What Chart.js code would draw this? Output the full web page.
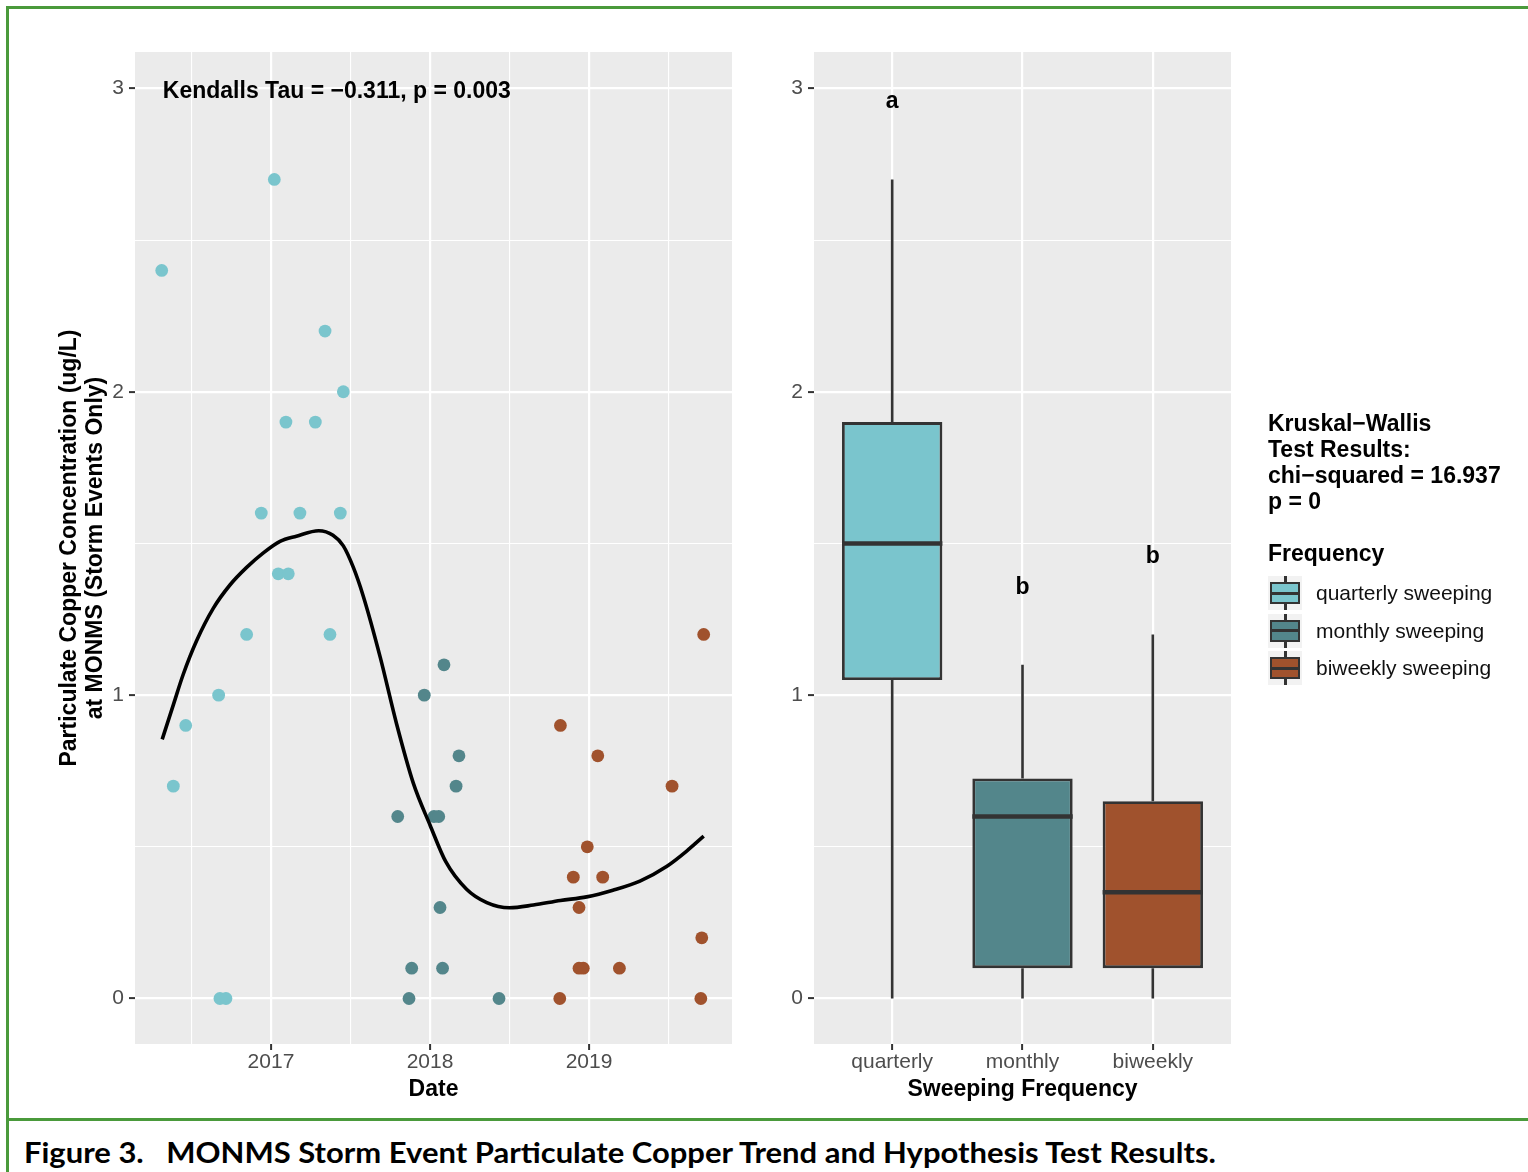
<!DOCTYPE html>
<html>
<head>
<meta charset="utf-8">
<title>MONMS Storm Event Particulate Copper</title>
<script src="https://cdn.jsdelivr.net/npm/chart.js@4/dist/chart.umd.min.js"></script>
<style>
  html, body { margin: 0; padding: 0; background: #ffffff; }
  body { width: 1528px; height: 1172px; position: relative; overflow: hidden;
         font-family: "Liberation Sans", Arial, sans-serif; }
  canvas { position: absolute; top: 0; }
  #trend { left: 0; }
  #freq { left: 760px; }
  .rule { position: absolute; background: #4a9a3b; }
  .kw { position: absolute; left: 1268px; font-weight: bold; font-size: 23px;
        line-height: 26px; color: #000; white-space: nowrap; }
  .key { position: absolute; left: 1268px; width: 34px; height: 34px; background: #F2F2F2; }
  .key .wh { position: absolute; left: 16px; top: 0; width: 2.5px; height: 34px; background: #333333; }
  .key .bx { position: absolute; left: 2px; top: 6px; width: 30px; height: 22px;
             box-sizing: border-box; border: 2.5px solid #333333; }
  .key .md { position: absolute; left: 2px; top: 15.5px; width: 30px; height: 3px; background: #333333; }
  .keylab { position: absolute; left: 1316px; font-size: 21px; line-height: 24px; color: #111; white-space: nowrap; }
  #caption { position: absolute; left: 24px; top: 1133px; font-family: Lato, "Open Sans", sans-serif;
             font-weight: 700; font-size: 28px; line-height: 38px; color: #000;
             white-space: pre; transform-origin: 0 50%; }
</style>
</head>
<body>
<canvas id="trend" width="760" height="1120"></canvas>
<canvas id="freq" width="768" height="1120"></canvas>
<div id="legend"></div>
<div class="rule" style="left:6px;top:6px;width:1522px;height:3px"></div>
<div class="rule" style="left:6px;top:6px;width:3px;height:1166px"></div>
<div class="rule" style="left:6px;top:1118px;width:1522px;height:3px"></div>
<div id="caption">Figure 3.   MONMS Storm Event Particulate Copper Trend and Hypothesis Test Results.</div>

<script>
// ---- sweeping-frequency groups ----
const groups = ['quarterly', 'monthly', 'biweekly'];
const groupLabels = ['quarterly sweeping', 'monthly sweeping', 'biweekly sweeping'];
const groupColors = ['#7AC5CD', '#53868B', '#A0522D'];

// ---- storm event samples (decimal year, particulate Cu ug/L) ----
const quarterlyDate = [2016.313, 2016.386, 2016.464, 2016.671, 2016.679, 2016.717, 2016.847, 2016.939, 2017.021,
                       2017.046, 2017.094, 2017.109, 2017.182, 2017.279, 2017.340, 2017.371, 2017.436, 2017.455];
const quarterlyCu   = [2.4, 0.7, 0.9, 1.0, 0.0, 0.0, 1.2, 1.6, 2.7,
                       1.4, 1.9, 1.4, 1.6, 1.9, 2.2, 1.2, 1.6, 2.0];

const monthlyDate = [2017.797, 2017.868, 2017.885, 2017.964, 2018.025, 2018.055,
                     2018.063, 2018.088, 2018.079, 2018.164, 2018.182, 2018.434];
const monthlyCu   = [0.6, 0.0, 0.1, 1.0, 0.6, 0.6,
                     0.3, 1.1, 0.1, 0.7, 0.8, 0.0];

const biweeklyDate = [2018.816, 2018.820, 2018.901, 2018.937, 2018.937, 2018.964, 2018.989,
                      2019.055, 2019.086, 2019.191, 2019.522, 2019.703, 2019.709, 2019.721];
const biweeklyCu   = [0.0, 0.9, 0.4, 0.3, 0.1, 0.1, 0.5,
                      0.8, 0.4, 0.1, 0.7, 0.0, 0.2, 1.2];

// ---- smoothed trend line ----
const trendDate = [2016.316, 2016.386, 2016.448, 2016.533, 2016.637, 2016.742, 2016.847, 2016.952, 2017.057,
                   2017.16, 2017.30, 2017.39, 2017.455, 2017.518, 2017.58, 2017.686, 2017.79, 2017.895,
                   2018.0, 2018.10, 2018.23, 2018.357, 2018.50, 2018.65, 2018.82, 2018.985, 2019.15,
                   2019.32, 2019.49, 2019.614, 2019.721];
const trendCu   = [0.854, 0.968, 1.068, 1.180, 1.286, 1.363, 1.421, 1.469, 1.507,
                   1.524, 1.542, 1.527, 1.492, 1.421, 1.327, 1.127, 0.905, 0.71,
                   0.572, 0.45, 0.36, 0.316, 0.299, 0.308, 0.323, 0.335, 0.357,
                   0.387, 0.436, 0.486, 0.535];

// ---- axis ticks ----
const yearTicks = [2017, 2018, 2019];
const yearMinorTicks = [2016.5, 2017.5, 2018.5, 2019.5];
const concTicks = [0, 1, 2, 3];
const concMinorTicks = [0.5, 1.5, 2.5];

// ---- test results ----
const kendallTau = -0.311;
const kendallP = 0.003;
const kendallAnchor = { x: 2016.32, y: 2.99 };
const kwChiSquared = 16.937;
const kwP = 0;
const groupLetters = ['a', 'b', 'b'];
const letterHeights = [2.957, 1.355, 1.457];

const FONT = '"Liberation Sans", Arial, sans-serif';
Chart.defaults.font.family = FONT;
const minus = s => String(s).replace('-', '\u2212');

const groupData = [
  { date: quarterlyDate, cu: quarterlyCu },
  { date: monthlyDate, cu: monthlyCu },
  { date: biweeklyDate, cu: biweeklyCu }
];

// Tukey box statistics (type-7 quantiles, 1.5 IQR whiskers)
function quantile(sorted, p) {
  const h = (sorted.length - 1) * p, lo = Math.floor(h), hi = Math.ceil(h);
  return sorted[lo] + (h - lo) * (sorted[hi] - sorted[lo]);
}
function boxStatsOf(values) {
  const s = [...values].sort((a, b) => a - b);
  const q1 = quantile(s, 0.25), med = quantile(s, 0.5), q3 = quantile(s, 0.75);
  const iqr = q3 - q1;
  const inside = s.filter(v => v >= q1 - 1.5 * iqr - 1e-9 && v <= q3 + 1.5 * iqr + 1e-9);
  return { q1, med, q3, lo: inside[0], hi: inside[inside.length - 1] };
}
const boxStats = groupData.map(g => boxStatsOf(g.cu));

const near = (v, list) => list.some(t => Math.abs(t - v) < 1e-6);

const panelBg = {
  id: 'panelBg',
  beforeDraw(chart) {
    const { ctx, chartArea: a } = chart;
    ctx.save();
    ctx.fillStyle = '#EBEBEB';
    ctx.fillRect(a.left, a.top, a.right - a.left, a.bottom - a.top);
    ctx.restore();
  }
};

function concScale(width, title) {
  const ticks = [...concTicks, ...concMinorTicks].sort((a, b) => a - b);
  return {
    type: 'linear', min: -0.15, max: 3.12, beginAtZero: false,
    afterBuildTicks: s => { s.ticks = ticks.map(v => ({ value: v })); },
    afterFit: s => { s.width = width; },
    ticks: {
      autoSkip: false, padding: 5, color: '#4D4D4D', font: { size: 21 },
      callback: v => near(v, concTicks) ? String(Math.round(v)) : ''
    },
    grid: {
      color: '#FFFFFF',
      lineWidth: c => near(c.tick.value, concTicks) ? 2.2 : 1.1,
      drawTicks: true, tickLength: 6, tickWidth: 2,
      tickColor: c => near(c.tick.value, concTicks) ? '#333333' : 'rgba(0,0,0,0)'
    },
    border: { display: false },
    title: title ? {
      display: true, text: title, color: '#000000',
      font: { size: 23, weight: 'bold', lineHeight: 1.12 },
      padding: { top: 57, bottom: 0 }
    } : { display: false }
  };
}

function bottomTitle(text) {
  return { display: true, text, color: '#000000', font: { size: 23, weight: 'bold', lineHeight: 1.2 },
           padding: { top: 0, bottom: 17 } };
}

// ---------- trend panel ----------
const kendallLabel = {
  id: 'kendallLabel',
  afterDatasetsDraw(chart) {
    const { ctx, scales: { x, y } } = chart;
    ctx.save();
    ctx.font = 'bold 23px ' + FONT;
    ctx.fillStyle = '#000000';
    ctx.textAlign = 'left';
    ctx.textBaseline = 'middle';
    ctx.fillText('Kendalls Tau = ' + minus(kendallTau.toFixed(3)) + ', p = ' + kendallP.toFixed(3),
                 x.getPixelForValue(kendallAnchor.x), y.getPixelForValue(kendallAnchor.y));
    ctx.restore();
  }
};

const yearTickAll = [...yearMinorTicks, ...yearTicks].sort((a, b) => a - b);
new Chart(document.getElementById('trend'), {
  type: 'scatter',
  data: {
    datasets: [
      {
        type: 'line', label: 'trend',
        data: trendDate.map((d, i) => ({ x: d, y: trendCu[i] })),
        borderColor: '#000000', borderWidth: 3.6, pointRadius: 0,
        cubicInterpolationMode: 'monotone', fill: false, order: 0
      },
      ...groupData.map((g, i) => ({
        label: groupLabels[i],
        data: g.date.map((d, j) => ({ x: d, y: g.cu[j] })),
        backgroundColor: groupColors[i], borderWidth: 0, pointRadius: 6.4, order: 1
      }))
    ]
  },
  options: {
    responsive: false, animation: false, events: [],
    layout: { padding: { top: 52, right: 28, bottom: 0, left: 0 } },
    plugins: { legend: { display: false }, tooltip: { enabled: false } },
    scales: {
      x: {
        type: 'linear', min: 2016.145, max: 2019.899,
        afterBuildTicks: s => { s.ticks = yearTickAll.map(v => ({ value: v })); },
        afterFit: s => { s.height = 76; },
        ticks: {
          autoSkip: false, maxRotation: 0, padding: 0, color: '#4D4D4D', font: { size: 21 },
          callback: v => near(v, yearTicks) ? String(Math.round(v)) : ''
        },
        grid: {
          color: '#FFFFFF',
          lineWidth: c => near(c.tick.value, yearTicks) ? 2.2 : 1.1,
          drawTicks: true, tickLength: 6, tickWidth: 2,
          tickColor: c => near(c.tick.value, yearTicks) ? '#333333' : 'rgba(0,0,0,0)'
        },
        border: { display: false },
        title: bottomTitle('Date')
      },
      y: concScale(135, ['Particulate Copper Concentration (ug/L)', 'at MONMS (Storm Events Only)'])
    }
  },
  plugins: [panelBg, kendallLabel]
});

// ---------- sweeping frequency panel ----------
const boxParts = {
  id: 'boxParts',
  beforeDatasetsDraw(chart) {
    const { ctx, scales: { y } } = chart;
    const meta = chart.getDatasetMeta(0);
    ctx.save();
    ctx.strokeStyle = '#333333';
    ctx.lineWidth = 2.6;
    meta.data.forEach((bar, i) => {
      const s = boxStats[i];
      ctx.beginPath();
      ctx.moveTo(bar.x, y.getPixelForValue(s.hi));
      ctx.lineTo(bar.x, y.getPixelForValue(s.q3));
      ctx.moveTo(bar.x, y.getPixelForValue(s.q1));
      ctx.lineTo(bar.x, y.getPixelForValue(s.lo));
      ctx.stroke();
    });
    ctx.restore();
  },
  afterDatasetsDraw(chart) {
    const { ctx, scales: { x, y } } = chart;
    const meta = chart.getDatasetMeta(0);
    ctx.save();
    ctx.strokeStyle = '#333333';
    ctx.lineWidth = 4.6;
    meta.data.forEach((bar, i) => {
      const my = y.getPixelForValue(boxStats[i].med);
      ctx.beginPath();
      ctx.moveTo(bar.x - bar.width / 2, my);
      ctx.lineTo(bar.x + bar.width / 2, my);
      ctx.stroke();
    });
    ctx.font = 'bold 23px ' + FONT;
    ctx.fillStyle = '#000000';
    ctx.textAlign = 'center';
    ctx.textBaseline = 'middle';
    groupLetters.forEach((t, i) => {
      ctx.fillText(t, x.getPixelForValue(i + 1), y.getPixelForValue(letterHeights[i]));
    });
    ctx.restore();
  }
};

new Chart(document.getElementById('freq'), {
  type: 'bar',
  data: {
    datasets: [{
      label: 'box',
      data: groups.map((g, i) => ({ x: i + 1, y: [boxStats[i].q1, boxStats[i].q3] })),
      backgroundColor: groupColors, borderColor: '#333333', borderWidth: 2.8,
      borderSkipped: false, barPercentage: 0.77, categoryPercentage: 1
    }]
  },
  options: {
    responsive: false, animation: false, events: [],
    layout: { padding: { top: 52, right: 297, bottom: 0, left: 0 } },
    plugins: { legend: { display: false }, tooltip: { enabled: false } },
    scales: {
      x: {
        type: 'linear', min: 0.4, max: 3.6, offset: false,
        afterBuildTicks: s => { s.ticks = groups.map((g, i) => ({ value: i + 1 })); },
        afterFit: s => { s.height = 76; },
        ticks: {
          autoSkip: false, maxRotation: 0, padding: 0, color: '#4D4D4D', font: { size: 21 },
          callback: v => groups[Math.round(v) - 1] || ''
        },
        grid: {
          offset: false, color: '#FFFFFF', lineWidth: 2.2,
          drawTicks: true, tickLength: 6, tickWidth: 2, tickColor: '#333333'
        },
        border: { display: false },
        title: bottomTitle('Sweeping Frequency')
      },
      y: concScale(54, null)
    }
  },
  plugins: [panelBg, boxParts]
});

// ---------- legend ----------
const legend = document.getElementById('legend');
const kwLines = ['Kruskal\u2212Wallis', 'Test Results:', 'chi\u2212squared = ' + kwChiSquared.toFixed(3), 'p = ' + kwP];
kwLines.forEach((t, i) => {
  const d = document.createElement('div');
  d.className = 'kw';
  d.style.top = (410 + i * 26) + 'px';
  d.textContent = t;
  legend.appendChild(d);
});
const ft = document.createElement('div');
ft.className = 'kw';
ft.style.top = '540px';
ft.textContent = 'Frequency';
legend.appendChild(ft);

groupLabels.forEach((lab, i) => {
  const cy = 593 + i * 37.5;
  const key = document.createElement('div');
  key.className = 'key';
  key.style.top = (cy - 17) + 'px';
  key.innerHTML = '<div class="wh"></div><div class="bx" style="background:' + groupColors[i] +
                  '"></div><div class="md"></div>';
  legend.appendChild(key);
  const l = document.createElement('div');
  l.className = 'keylab';
  l.style.top = (cy - 12) + 'px';
  l.textContent = lab;
  legend.appendChild(l);
});

// fit caption to its column width
const cap = document.getElementById('caption');
const cw = cap.getBoundingClientRect().width;
cap.style.transform = 'scaleX(' + (1192 / cw) + ')';
</script>
</body>
</html>
